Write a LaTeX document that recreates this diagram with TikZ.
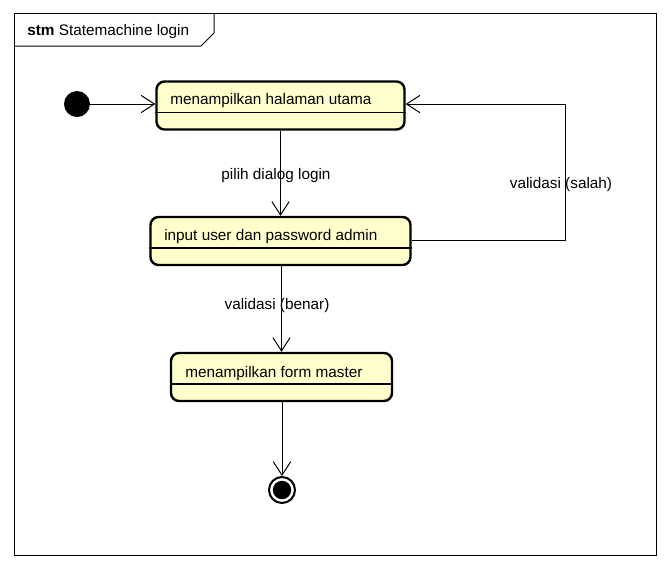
\documentclass[tikz,border=0pt]{standalone}
\usepackage{fontspec}
\setmainfont{Liberation Sans}
\usetikzlibrary{arrows.meta}
\definecolor{stfill}{RGB}{255,255,204}
\begin{document}
\begin{tikzpicture}[x=0.75pt,y=-0.75pt,
  font=\fontsize{11.5pt}{13.8pt}\selectfont,
  state/.style={draw, line width=1.8pt, rounded corners=6pt, fill=stfill,
    minimum width=#1, minimum height=36pt, inner sep=0pt},
  divider/.style={line width=0.9pt},
  txt/.style={anchor=west, inner sep=0pt},
  lbl/.style={inner sep=0pt},
  arr/.style={line width=0.75pt, -{Straight Barb[length=10pt,width=13pt,line width=0.75pt]}},
  frame/.style={line width=0.75pt}]
\useasboundingbox (0,0) rectangle (669,569);
% frame
\draw[frame] (14,13) rectangle (656,555);
\draw[frame] (14,46) -- (201,46) -- (214,33) -- (214,13);
\node[txt] (title) at (27,32) {\textbf{stm} Statemachine login};
% nodes
\node[circle, fill=black, minimum size=19.5pt, inner sep=0pt] (init) at (77,104) {};
\node[state=186pt] (s1) at (280.5,105.5) {};
\node[state=195pt] (s2) at (280.5,241) {};
\node[state=165.75pt] (s3) at (281.5,377) {};
\node[circle, draw, line width=1.5pt, minimum size=19.5pt, inner sep=0pt] (fin) at (282,490) {};
\fill (fin.center) circle (6.9pt);
% dividers
\draw[divider] ([yshift=-5.25pt]s1.west) -- ([yshift=-5.25pt]s1.east);
\draw[divider] ([yshift=-5.25pt]s2.west) -- ([yshift=-5.25pt]s2.east);
\draw[divider] ([yshift=-5.25pt]s3.west) -- ([yshift=-5.25pt]s3.east);
% texts
\node[txt] (t1) at (170,100.5) {menampilkan halaman utama};
\node[txt] (t2) at (164,236.5) {input user dan password admin};
\node[txt] (t3) at (185,373.5) {menampilkan form master};
% connectors
\coordinate (loopx) at (565,170);
\coordinate (s2out) at ([yshift=0.75pt]s2.east);
\coordinate (s1in) at ([yshift=1.1pt]s1.east);
\draw[arr] (init) -- (init -| s1.west);
\draw[arr] (s1) -- (s2);
\draw[arr] (s2.south -| s3.north) -- (s3.north);
\draw[arr] (s3.south -| fin.north) -- (fin.north);
\draw[arr] (s2out) -- (s2out -| loopx) -- (loopx |- s1in) -- (s1in);
% labels
\node[lbl] (l1) at (276,176) {pilih dialog login};
\node[lbl] (l2) at (277,306) {validasi (benar)};
\node[lbl] (l3) at (561,185) {validasi (salah)};
\end{tikzpicture}
\end{document}
